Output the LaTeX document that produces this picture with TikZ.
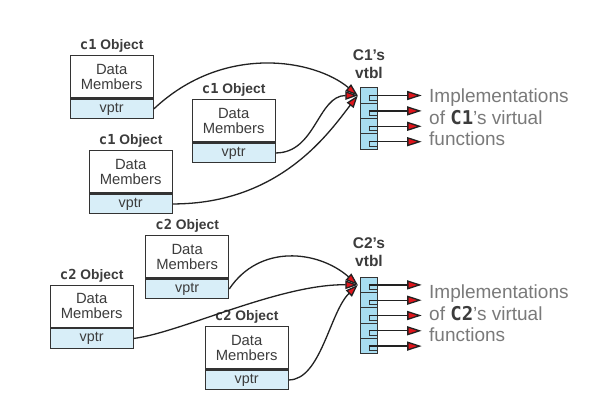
\documentclass[tikz,border=0pt]{standalone}
\usepackage{fontspec}
\setmainfont{Liberation Sans}
\newfontfamily\monob{DejaVu Sans Mono}
\usetikzlibrary{arrows.meta,calc}
\definecolor{boxc}{HTML}{333333}
\definecolor{txtc}{HTML}{3C3C3C}
\definecolor{implc}{HTML}{7A7A7A}
\definecolor{vpfill}{HTML}{D8EEF8}
\definecolor{vtfill}{HTML}{A8DDF1}
\definecolor{arrred}{HTML}{E0141B}
\definecolor{linec}{HTML}{222222}
\tikzset{
  datab/.style={draw=boxc, line width=1.3pt, fill=white, minimum width=83pt, minimum height=42.3pt, anchor=north west, inner sep=0pt, align=center, font=\fontsize{14.8}{14.7}\selectfont, text=txtc},
  vptrb/.style={draw=boxc, line width=1.3pt, fill=vpfill, minimum width=83pt, minimum height=19.4pt, anchor=north, inner sep=0pt, font=\fontsize{14.3}{14}\selectfont, text=txtc},
  objlab/.style={anchor=base, inner sep=0pt, font=\fontsize{13.8}{13.8}\selectfont\bfseries, text=txtc},
  cellb/.style={draw=boxc, line width=1pt, fill=vtfill, minimum width=16.6pt, minimum height=15.4pt, anchor=north, inner sep=0pt},
  notch/.style={draw=boxc, line width=0.8pt},
  outarr/.style={draw=linec, line width=1.3pt, -{Triangle[length=14.5pt,width=9pt,fill=arrred]}},
  inarr/.style={draw=linec, line width=1.3pt, -{Triangle[length=12.5pt,width=8.5pt,fill=arrred]}},
  vtlab/.style={align=center, inner sep=0pt, font=\fontsize{15.5}{18.3}\selectfont\bfseries, text=txtc},
  impl/.style={anchor=north west, align=left, inner sep=0pt, font=\fontsize{19}{21.7}\selectfont, text=implc}
}
\begin{document}
\begin{tikzpicture}[x=1pt,y=-1pt]
\useasboundingbox[fill=white] (0,0) rectangle (615,414);

% ---------- group 1 objects ----------
\node[datab] (d1) at (69.5,55) {Data\\Members};
\node[vptrb] (vp1) at (d1.south) {vptr};
\node[objlab] (l1) at ([yshift=5.5pt]d1.north) {{\monob c1} Object};

\node[datab] (d2) at (191.5,99) {Data\\Members};
\node[vptrb] (vp2) at (d2.south) {vptr};
\node[objlab] (l2) at ([yshift=5.5pt]d2.north) {{\monob c1} Object};

\node[datab] (d3) at (88.5,150) {Data\\Members};
\node[vptrb] (vp3) at (d3.south) {vptr};
\node[objlab] (l3) at ([yshift=5.5pt]d3.north) {{\monob c1} Object};

% ---------- group 2 objects ----------
\node[datab] (d4) at (145,235) {Data\\Members};
\node[vptrb] (vp4) at (d4.south) {vptr};
\node[objlab] (l4) at ([yshift=5.5pt]d4.north) {{\monob c2} Object};

\node[datab] (d5) at (49.5,284.5) {Data\\Members};
\node[vptrb] (vp5) at (d5.south) {vptr};
\node[objlab] (l5) at ([yshift=5.5pt]d5.north) {{\monob c2} Object};

\node[datab] (d6) at (204.5,326) {Data\\Members};
\node[vptrb] (vp6) at (d6.south) {vptr};
\node[objlab] (l6) at ([yshift=5.5pt]d6.north) {{\monob c2} Object};

% ---------- vtbl 1 ----------
\node[vtlab] (vl1) at (369,64) {C1’s\\vtbl};
\foreach \i in {0,...,3}{
  \node[cellb] (ta\i) at (369,{87.3+15.4*\i}) {};
  \draw[notch] (ta\i.center) -- ++(0,4.5) -- ++(8.3,0);
  \coordinate (fa\i) at ([xshift=52.7pt]ta\i.center);
  \draw[outarr] (ta\i.center) -- (fa\i);
}
\node[impl] (im1) at (429,88.4) {Implementations\\of {\monob\bfseries\color{txtc}C1}’s virtual\\functions};

% ---------- vtbl 2 ----------
\node[vtlab] (vl2) at (369,252.5) {C2’s\\vtbl};
\foreach \i in {0,...,4}{
  \node[cellb] (tb\i) at (369,{276.7+15.3*\i}) {};
  \draw[notch] (tb\i.center) -- ++(0,4.5) -- ++(8.3,0);
  \coordinate (fb\i) at ([xshift=52.7pt]tb\i.center);
  \draw[outarr] (tb\i.center) -- (fb\i);
}
\node[impl] (im2) at (429,284.4) {Implementations\\of {\monob\bfseries\color{txtc}C2}’s virtual\\functions};

% ---------- incoming pointers ----------
\coordinate (ina) at ([xshift=-2.4pt]ta0.west);
\coordinate (inb) at ([xshift=-2.4pt]tb0.west);

\draw[inarr] (vp1.east) .. controls +(70,-66) and +(-43,-36) .. (ina);
\draw[inarr] (vp2.east) .. controls +(40,0) and +(-40,0) .. (ina);
\draw[inarr] (vp3.east) .. controls +(108,0) and +(-28,36) .. (ina);

\draw[inarr] (vp4.east) .. controls +(30,-45) and +(-40,-35) .. (inb);
\draw[inarr] (vp5.east) .. controls +(47,-6) and +(-78,-1) .. (inb);
\draw[inarr] (vp6.east) .. controls +(32,0) and +(-28,27) .. (inb);
\end{tikzpicture}
\end{document}
